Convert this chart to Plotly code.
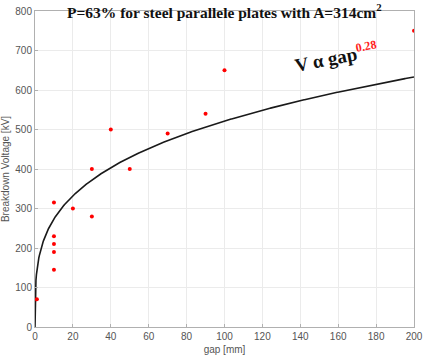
import numpy as np
import plotly.graph_objects as go

# Measured breakdown voltages
gap_mm = [1, 10, 10, 10, 10, 10, 20, 30, 30, 40, 50, 70, 90, 100, 200]
breakdown_kv = [70, 145, 190, 210, 230, 315, 300, 280, 400, 500, 400, 490, 540, 650, 750]

# Power-law fit V = k * gap^n
fit_k = 143.6
fit_n = 0.28
fit_gap = np.linspace(0, 200, 801)
fit_v = fit_k * fit_gap ** fit_n

x_ticks = [0, 20, 40, 60, 80, 100, 120, 140, 160, 180, 200]
y_ticks = [0, 100, 200, 300, 400, 500, 600, 700, 800]

fig = go.Figure()
fig.add_trace(go.Scatter(x=fit_gap, y=fit_v, mode="lines",
                         line=dict(color="#1a1a1a", width=1.6), hoverinfo="skip"))
fig.add_trace(go.Scatter(x=gap_mm, y=breakdown_kv, mode="markers",
                         marker=dict(color="#ff0000", size=4)))

axis_common = dict(showgrid=True, gridcolor="#ebebeb", gridwidth=1,
                   showline=True, linecolor="#b0b0b0", linewidth=1, mirror=True,
                   ticks="inside", ticklen=3, tickcolor="#b0b0b0",
                   tickfont=dict(family="Liberation Sans, Arial", size=10, color="#555555"),
                   zeroline=False, automargin=False)

fig.update_layout(
    width=423, height=359,
    margin=dict(l=35, r=9, t=11, b=32),
    paper_bgcolor="white", plot_bgcolor="white",
    showlegend=False,
    xaxis=dict(range=[0, 200], tickvals=x_ticks,
               title=dict(text="gap [mm]", standoff=4,
                          font=dict(family="Liberation Sans, Arial", size=10, color="#555555")),
               **axis_common),
    yaxis=dict(range=[0, 800], tickvals=y_ticks,
               title=dict(text="Breakdown Voltage [kV]", standoff=4,
                          font=dict(family="Liberation Sans, Arial", size=10, color="#555555")),
               **axis_common),
    annotations=[
        dict(text="<b>P=63% for steel parallele plates with A=314cm<sup>2</sup></b>",
             xref="paper", yref="paper", x=0.5, y=1.0, yanchor="middle",
             showarrow=False,
             font=dict(family="Liberation Serif, Times New Roman", size=15.5, color="#111111")),
        dict(text="<b>V α gap<sup><span style='color:#ff2020;font-size:12px'>0.28</span></sup></b>",
             xref="x", yref="y", x=159, y=684, textangle=-11,
             showarrow=False,
             font=dict(family="Liberation Serif, Times New Roman", size=19, color="#111111")),
    ],
)

fig.write_html("out.html")
